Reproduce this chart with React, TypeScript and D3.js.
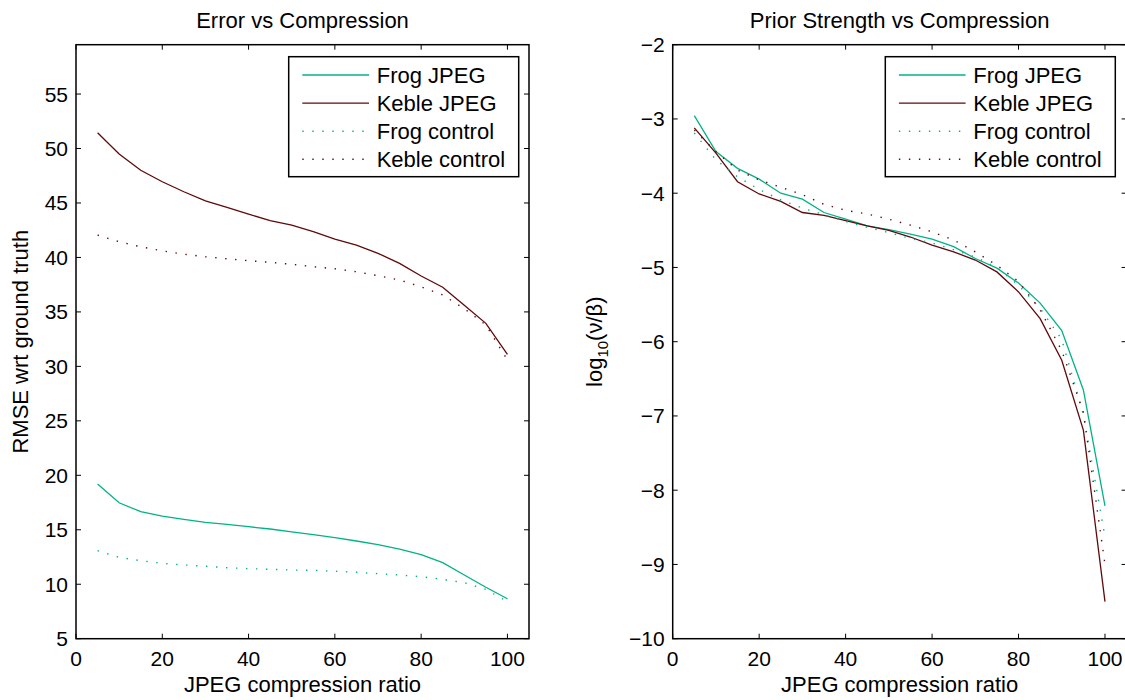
import React from 'react';
import * as d3 from 'd3';

// ---------- data ----------
const compression = [5, 10, 15, 20, 25, 30, 35, 40, 45, 50, 55, 60, 65, 70, 75, 80, 85, 90, 95, 100];

const errFrogJpeg = [19.2, 17.48, 16.66, 16.26, 15.96, 15.68, 15.5, 15.28, 15.07, 14.8, 14.55, 14.27, 13.97, 13.63, 13.23, 12.71, 11.98, 10.85, 9.72, 8.67];
const errKebleJpeg = [51.45, 49.5, 48.0, 46.95, 46.03, 45.2, 44.6, 43.98, 43.37, 42.97, 42.36, 41.69, 41.14, 40.38, 39.46, 38.3, 37.26, 35.6, 33.95, 31.1];
const errFrogControl = [13.08, 12.47, 12.16, 11.92, 11.77, 11.65, 11.52, 11.43, 11.37, 11.3, 11.28, 11.19, 11.1, 10.97, 10.85, 10.69, 10.45, 10.14, 9.53, 8.4];
const errKebleControl = [42.05, 41.44, 40.98, 40.6, 40.3, 40.06, 39.88, 39.7, 39.55, 39.37, 39.15, 38.96, 38.69, 38.32, 37.93, 37.3, 36.55, 35.3, 33.8, 30.58];

const priorFrogJpeg = [-2.956, -3.44, -3.665, -3.81, -4.0, -4.08, -4.26, -4.35, -4.44, -4.49, -4.55, -4.62, -4.72, -4.88, -5.01, -5.21, -5.48, -5.85, -6.65, -8.21];
const priorKebleJpeg = [-3.12, -3.46, -3.845, -4.01, -4.11, -4.26, -4.3, -4.37, -4.44, -4.5, -4.59, -4.7, -4.79, -4.9, -5.06, -5.33, -5.69, -6.25, -7.19, -9.5];
const priorFrogControl = [-3.19, -3.55, -3.78, -3.95, -4.09, -4.2, -4.29, -4.38, -4.46, -4.53, -4.61, -4.67, -4.76, -4.86, -5.0, -5.24, -5.55, -5.97, -6.98, -8.63];
const priorKebleControl = [-3.15, -3.44, -3.69, -3.82, -3.92, -4.02, -4.15, -4.23, -4.28, -4.35, -4.43, -4.52, -4.63, -4.79, -4.97, -5.19, -5.57, -6.12, -6.95, -9.0];

const seriesNames = ['Frog JPEG', 'Keble JPEG', 'Frog control', 'Keble control'];

const xTicks = [0, 20, 40, 60, 80, 100];
const errYTicks = [5, 10, 15, 20, 25, 30, 35, 40, 45, 50, 55];
const priorYTicks = [-10, -9, -8, -7, -6, -5, -4, -3, -2];

// ---------- styles ----------
const W = 1125;
const H = 700;
const FONT = "'Liberation Sans', Arial, Helvetica, sans-serif";
const FS = 22;
const TFS = 21;
const GREEN = '#00b386';
const BROWN = '#5e0a0a';
const styles = [
  { color: GREEN, dash: null },
  { color: BROWN, dash: null },
  { color: GREEN, dash: '1.4,8.6' },
  { color: BROWN, dash: '1.4,8.6' },
];

const fmt = (v: number) => (v < 0 ? '\u2212' + Math.abs(v) : String(v));

type PanelProps = {
  left: number;
  right: number;
  top: number;
  bottom: number;
  yDomain: [number, number];
  yTicks: number[];
  data: number[][];
  title: string;
  yLabel: React.ReactNode;
  yLabelX: number;
  legendX: number;
};

function Panel(p: PanelProps) {
  const x = d3.scaleLinear().domain([0, 105]).range([p.left, p.right]);
  const y = d3.scaleLinear().domain(p.yDomain).range([p.bottom, p.top]);
  const line = d3
    .line<number>()
    .x((_, i) => x(compression[i]))
    .y((d) => y(d));
  const tickLen = 5;
  const cx = (p.left + p.right) / 2;
  const cy = (p.top + p.bottom) / 2;
  const lg = { x: p.legendX, y: 56.7, w: 230, h: 120 };
  return (
    <g>
      <defs>
        <clipPath id={'clip' + Math.round(p.left)}>
          <rect x={p.left} y={p.top} width={p.right - p.left} height={p.bottom - p.top} />
        </clipPath>
      </defs>
      {/* series */}
      <g clipPath={`url(#clip${Math.round(p.left)})`}>
        {p.data.map((s, i) => (
          <path
            key={i}
            d={line(s) || ''}
            fill="none"
            stroke={styles[i].color}
            strokeWidth={styles[i].dash ? 1.4 : 1.3}
            strokeDasharray={styles[i].dash || undefined}
          />
        ))}
      </g>
      {/* ticks */}
      {xTicks.map((t) => (
        <g key={'xt' + t}>
          <line x1={x(t)} x2={x(t)} y1={p.bottom} y2={p.bottom - tickLen} stroke="#000" strokeWidth={1} />
          <line x1={x(t)} x2={x(t)} y1={p.top} y2={p.top + tickLen} stroke="#000" strokeWidth={1} />
          <text x={x(t)} y={p.bottom + 27.5} textAnchor="middle" fontFamily={FONT} fontSize={TFS} fill="#000">
            {fmt(t)}
          </text>
        </g>
      ))}
      {p.yTicks.map((t) => (
        <g key={'yt' + t}>
          <line x1={p.left} x2={p.left + tickLen} y1={y(t)} y2={y(t)} stroke="#000" strokeWidth={1} />
          <line x1={p.right} x2={p.right - tickLen} y1={y(t)} y2={y(t)} stroke="#000" strokeWidth={1} />
          <text x={p.left - 8} y={y(t) + 7.5} textAnchor="end" fontFamily={FONT} fontSize={TFS} fill="#000">
            {fmt(t)}
          </text>
        </g>
      ))}
      {/* frame */}
      <rect x={p.left} y={p.top} width={p.right - p.left} height={p.bottom - p.top} fill="none" stroke="#000" strokeWidth={1.5} />
      {/* title & labels */}
      <text x={cx} y={28} textAnchor="middle" fontFamily={FONT} fontSize={FS} fill="#000">
        {p.title}
      </text>
      <text x={cx} y={691.5} textAnchor="middle" fontFamily={FONT} fontSize={FS} fill="#000">
        JPEG compression ratio
      </text>
      <text
        transform={`translate(${p.yLabelX},${cy}) rotate(-90)`}
        textAnchor="middle"
        fontFamily={FONT}
        fontSize={FS}
        fill="#000"
      >
        {p.yLabel}
      </text>
      {/* legend */}
      <rect x={lg.x} y={lg.y} width={lg.w} height={lg.h} fill="#fff" stroke="#000" strokeWidth={1.5} />
      {seriesNames.map((n, i) => {
        const ry = 75 + i * 28.1;
        return (
          <g key={n}>
            <line
              x1={lg.x + 13.6}
              x2={lg.x + 80.3}
              y1={ry}
              y2={ry}
              stroke={styles[i].color}
              strokeWidth={styles[i].dash ? 1.4 : 1.3}
              strokeDasharray={styles[i].dash || undefined}
            />
            <text x={lg.x + 88} y={ry + 8} fontFamily={FONT} fontSize={FS} fill="#000">
              {n}
            </text>
          </g>
        );
      })}
    </g>
  );
}

export default function App() {
  return (
    <svg
      width={W}
      height={H}
      viewBox={`0 0 ${W} ${H}`}
      style={{ position: 'fixed', left: 0, top: 0, background: '#fff', display: 'block' }}
    >
      <rect x={0} y={0} width={W} height={H} fill="#fff" />
      <Panel
        left={76}
        right={529}
        top={44.7}
        bottom={638.7}
        yDomain={[5, 59.53]}
        yTicks={errYTicks}
        data={[errFrogJpeg, errKebleJpeg, errFrogControl, errKebleControl]}
        title="Error vs Compression"
        yLabel="RMSE wrt ground truth"
        yLabelX={28}
        legendX={288.7}
      />
      <Panel
        left={672.7}
        right={1126.6}
        top={44.7}
        bottom={638.7}
        yDomain={[-10, -2]}
        yTicks={priorYTicks}
        data={[priorFrogJpeg, priorKebleJpeg, priorFrogControl, priorKebleControl]}
        title="Prior Strength vs Compression"
        yLabel={
          <>
            <tspan>log</tspan>
            <tspan fontSize={15} dy={6}>10</tspan>
            <tspan dy={-6}>(ν/β)</tspan>
          </>
        }
        yLabelX={602}
        legendX={885.3}
      />
    </svg>
  );
}
